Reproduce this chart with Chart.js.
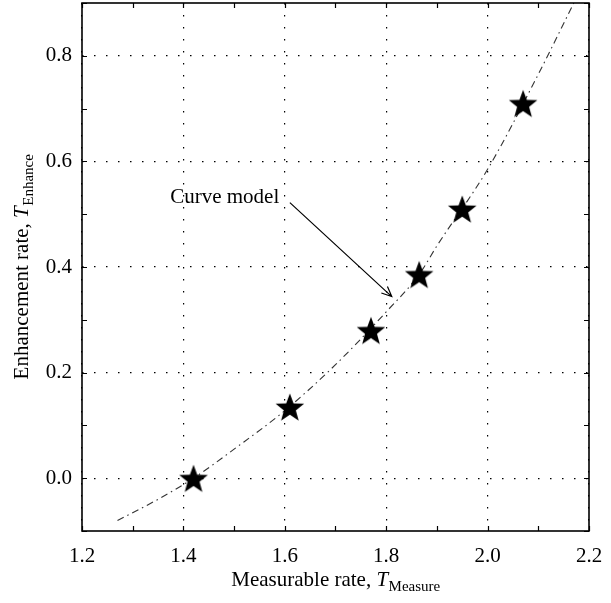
<!DOCTYPE html>
<html>
<head>
<meta charset="utf-8">
<script src="https://cdn.jsdelivr.net/npm/chart.js@4"></script>
<style>
html,body{margin:0;padding:0;background:#fff;}
#wrap{width:611px;height:603px;}
</style>
</head>
<body>
<div id="wrap"><canvas id="c" width="611" height="603"></canvas></div>
<script>
// ---- data ----
const xTickValues = [1.2, 1.4, 1.6, 1.8, 2.0, 2.2];
const yTickValues = [0.0, 0.2, 0.4, 0.6, 0.8];
const measureRate = [1.42, 1.61, 1.77, 1.865, 1.95, 2.07];
const enhanceRate = [0.0, 0.135, 0.28, 0.386, 0.51, 0.71];
const curveX = [1.27, 1.35, 1.42, 1.5, 1.6, 1.7, 1.8, 1.865, 1.9, 2.0, 2.1, 2.17];
const curveY = [-0.08, -0.04, 0.0, 0.055, 0.128, 0.215, 0.315, 0.386, 0.44, 0.585, 0.765, 0.9];
const annotationText = "Curve model";
const xTitle = ["Measurable rate, ", "T", "Measure"];
const yTitle = ["Enhancement rate, ", "T", "Enhance"];

const SERIF = '"Liberation Serif", "DejaVu Serif", serif';

// filled star marker
function makeStar(r) {
  const c = document.createElement('canvas');
  const s = Math.ceil(r * 2 + 2);
  c.width = s; c.height = s;
  const g = c.getContext('2d');
  const cx = s / 2, cy = s / 2 + r * 0.1;
  const ri = r * 0.42;
  g.beginPath();
  for (let i = 0; i < 10; i++) {
    const a = -Math.PI / 2 + i * Math.PI / 5;
    const rr = i % 2 === 0 ? r : ri;
    const px = cx + rr * Math.cos(a), py = cy + rr * Math.sin(a);
    if (i === 0) g.moveTo(px, py); else g.lineTo(px, py);
  }
  g.closePath();
  g.fillStyle = '#000';
  g.fill();
  return c;
}
const starImg = makeStar(15);

const framePlugin = {
  id: 'frame',
  afterDraw(chart) {
    const ctx = chart.ctx;
    const a = chart.chartArea;
    const xs = chart.scales.x, ys = chart.scales.y;
    ctx.save();
    ctx.strokeStyle = '#000';
    ctx.lineWidth = 1.2;
    const tl = 5;
    for (let i = 0; i <= 10; i++) {
      const v = 1.2 + i * 0.1;
      const px = Math.round(xs.getPixelForValue(v)) + 0.5;
      ctx.beginPath();
      ctx.moveTo(px, a.bottom); ctx.lineTo(px, a.bottom - tl);
      ctx.moveTo(px, a.top); ctx.lineTo(px, a.top + tl);
      ctx.stroke();
    }
    for (let i = 0; i <= 10; i++) {
      const v = -0.1 + i * 0.1;
      const py = Math.round(ys.getPixelForValue(v)) + 0.5;
      ctx.beginPath();
      ctx.moveTo(a.left, py); ctx.lineTo(a.left + tl, py);
      ctx.moveTo(a.right, py); ctx.lineTo(a.right - tl, py);
      ctx.stroke();
    }
    ctx.lineWidth = 1.6;
    ctx.strokeRect(a.left, a.top, a.right - a.left, a.bottom - a.top);

    // annotation
    const tx = xs.getPixelForValue(1.374), ty = ys.getPixelForValue(0.522);
    ctx.fillStyle = '#000';
    ctx.font = '21px ' + SERIF;
    ctx.textAlign = 'left';
    ctx.textBaseline = 'alphabetic';
    ctx.fillText(annotationText, tx, ty);
    const x0 = xs.getPixelForValue(1.610), y0 = ys.getPixelForValue(0.522);
    const x1 = xs.getPixelForValue(1.811), y1 = ys.getPixelForValue(0.344);
    ctx.lineWidth = 1.2;
    ctx.beginPath();
    ctx.moveTo(x0, y0); ctx.lineTo(x1, y1);
    const ang = Math.atan2(y1 - y0, x1 - x0);
    const hl = 11, hw = 0.42;
    ctx.moveTo(x1 - hl * Math.cos(ang - hw), y1 - hl * Math.sin(ang - hw));
    ctx.lineTo(x1, y1);
    ctx.lineTo(x1 - hl * Math.cos(ang + hw), y1 - hl * Math.sin(ang + hw));
    ctx.stroke();

    function drawTitle(parts, cx, baseY) {
      const fMain = '21px ' + SERIF, fIt = 'italic 21px ' + SERIF, fSub = '15px ' + SERIF;
      ctx.font = fMain; const w0 = ctx.measureText(parts[0]).width;
      ctx.font = fIt; const w1 = ctx.measureText(parts[1]).width;
      ctx.font = fSub; const w2 = ctx.measureText(parts[2]).width;
      let x = cx - (w0 + w1 + w2) / 2;
      ctx.textAlign = 'left';
      ctx.font = fMain; ctx.fillText(parts[0], x, baseY); x += w0;
      ctx.font = fIt; ctx.fillText(parts[1], x, baseY); x += w1 + 0.5;
      ctx.font = fSub; ctx.fillText(parts[2], x, baseY + 5);
    }
    drawTitle(xTitle, (a.left + a.right) / 2, 586);
    ctx.save();
    ctx.translate(28, (a.top + a.bottom) / 2);
    ctx.rotate(-Math.PI / 2);
    drawTitle(yTitle, 0, 0);
    ctx.restore();
    ctx.restore();
  }
};

new Chart(document.getElementById('c'), {
  type: 'scatter',
  data: {
    datasets: [
      {
        label: 'Curve model',
        data: curveX.map((x, i) => ({x: x, y: curveY[i]})),
        showLine: true,
        borderColor: '#333',
        borderWidth: 1.1,
        borderDash: [7, 4, 1.5, 4],
        pointRadius: 0,
        cubicInterpolationMode: 'monotone',
        fill: false,
        order: 2
      },
      {
        label: 'Measured',
        data: measureRate.map((x, i) => ({x: x, y: enhanceRate[i]})),
        pointStyle: starImg,
        pointRadius: 15,
        showLine: false,
        order: 1
      }
    ]
  },
  options: {
    responsive: false,
    animation: false,
    devicePixelRatio: 1,
    layout: {autoPadding: false, padding: {top: 3, right: 22, left: 0, bottom: 0}},
    plugins: {legend: {display: false}, tooltip: {enabled: false}},
    scales: {
      x: {
        type: 'linear', min: 1.2, max: 2.2,
        afterBuildTicks: s => { s.ticks = xTickValues.map(v => ({value: v})); },
        afterFit: s => { s.height = 72; s.paddingLeft = 0; s.paddingRight = 0; },
        ticks: {color: '#000', font: {family: SERIF, size: 21}, padding: 13,
          callback: v => Number(v).toFixed(1), maxRotation: 0, autoSkip: false},
        grid: {color: '#000', lineWidth: 1.2, drawTicks: false},
        border: {display: false, dash: [1.5, 10.5]}
      },
      y: {
        type: 'linear', min: -0.1, max: 0.9,
        afterBuildTicks: s => { s.ticks = yTickValues.map(v => ({value: v})); },
        afterFit: s => { s.width = 82; s.paddingTop = 0; s.paddingBottom = 0; },
        ticks: {color: '#000', font: {family: SERIF, size: 21}, padding: 10,
          callback: v => Number(v).toFixed(1), autoSkip: false},
        grid: {color: '#000', lineWidth: 1.2, drawTicks: false},
        border: {display: false, dash: [1.5, 10.5]}
      }
    }
  },
  plugins: [framePlugin]
});
</script>
</body>
</html>
